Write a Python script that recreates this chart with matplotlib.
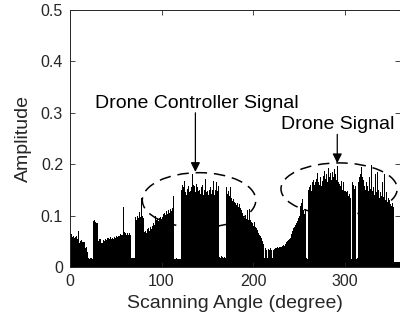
import numpy as np
import matplotlib
matplotlib.use("Agg")
import matplotlib.pyplot as plt
from matplotlib.patches import Ellipse

plt.rcParams['font.family'] = ['Liberation Sans', 'DejaVu Sans']

# amplitude per 1-degree scanning step (0..359)
amp_000 = [0.066,0.064,0.058,0.060,0.056,0.062,0.058,0.060,0.055,0.070,
           0.047,0.050,0.052,0.048,0.049,0.048,0.037,0.036,0.038,0.030,
           0.017,0.016,0.018,0.017,0.016,0.090,0.092,0.087,0.086,0.088,
           0.085,0.050,0.055,0.054,0.047,0.046,0.053,0.050,0.055,0.052,
           0.056,0.053,0.057,0.054,0.058,0.055,0.057,0.054,0.059,0.056,
           0.060,0.058,0.061,0.063,0.060,0.064,0.062,0.063,0.117,0.068]
amp_060 = [0.067,0.062,0.066,0.063,0.060,0.066,0.062,0.018,0.017,0.018,
           0.017,0.097,0.092,0.100,0.095,0.107,0.102,0.098,0.134,0.100,
           0.096,0.068,0.070,0.067,0.073,0.075,0.071,0.077,0.076,0.074,
           0.080,0.085,0.082,0.100,0.092,0.095,0.090,0.096,0.098,0.094,
           0.102,0.098,0.104,0.106,0.101,0.108,0.104,0.110,0.106,0.112,
           0.108,0.115,0.111,0.138,0.016,0.015,0.017,0.016,0.015,0.016]
amp_120 = [0.016,0.150,0.160,0.165,0.155,0.168,0.145,0.140,0.152,0.158,
           0.145,0.148,0.155,0.180,0.160,0.150,0.158,0.145,0.162,0.155,
           0.148,0.150,0.142,0.155,0.160,0.140,0.150,0.145,0.172,0.146,
           0.148,0.140,0.150,0.155,0.142,0.150,0.168,0.140,0.150,0.145,
           0.165,0.148,0.158,0.020,0.018,0.022,0.020,0.017,0.020,0.018,
           0.155,0.150,0.142,0.148,0.138,0.156,0.135,0.128,0.132,0.126]
amp_180 = [0.125,0.120,0.122,0.125,0.117,0.123,0.115,0.110,0.105,0.100,
           0.096,0.102,0.093,0.110,0.100,0.092,0.112,0.092,0.088,0.085,
           0.080,0.088,0.078,0.075,0.072,0.066,0.062,0.063,0.060,0.057,
           0.050,0.045,0.018,0.036,0.034,0.018,0.035,0.033,0.034,0.036,
           0.033,0.018,0.034,0.035,0.036,0.037,0.038,0.036,0.039,0.038,
           0.040,0.038,0.041,0.042,0.040,0.045,0.048,0.050,0.052,0.055]
amp_240 = [0.057,0.060,0.065,0.070,0.075,0.078,0.082,0.085,0.090,0.095,
           0.100,0.118,0.125,0.115,0.132,0.110,0.104,0.112,0.017,0.016,
           0.150,0.155,0.160,0.148,0.165,0.152,0.170,0.160,0.165,0.172,
           0.183,0.165,0.160,0.175,0.158,0.168,0.178,0.165,0.187,0.172,
           0.180,0.165,0.193,0.175,0.182,0.170,0.185,0.175,0.190,0.200,
           0.180,0.170,0.196,0.165,0.162,0.158,0.168,0.150,0.165,0.148]
amp_300 = [0.158,0.148,0.145,0.148,0.138,0.142,0.135,0.016,0.165,0.160,
           0.152,0.158,0.150,0.016,0.017,0.165,0.175,0.180,0.195,0.175,
           0.170,0.158,0.150,0.165,0.143,0.158,0.148,0.175,0.152,0.198,
           0.148,0.155,0.140,0.180,0.145,0.185,0.140,0.150,0.135,0.145,
           0.138,0.165,0.136,0.180,0.130,0.145,0.126,0.135,0.124,0.130,
           0.122,0.118,0.125,0.116,0.010,0.010,0.010,0.010,0.010,0.010]
amplitude = amp_000 + amp_060 + amp_120 + amp_180 + amp_240 + amp_300
angles = np.arange(len(amplitude))

x_ticks = [0, 100, 200, 300]
y_ticks = [0, 0.1, 0.2, 0.3, 0.4, 0.5]
y_ticklabels = ['0', '0.1', '0.2', '0.3', '0.4', '0.5']

controller_label = 'Drone Controller Signal'
drone_label = 'Drone Signal'
# ellipse (center angle, center amp, width deg, height amp)
controller_ellipse = (141, 0.130, 124, 0.107)
drone_ellipse = (294, 0.152, 127, 0.101)
controller_arrow = (137, 0.300, 0.185)   # x, text-bottom, tip
drone_arrow = (292, 0.258, 0.202)
controller_text = (139, 0.319)
drone_text = (293, 0.277)

fig = plt.figure(figsize=(4.0, 3.35), dpi=100)
ax = fig.add_axes([70/400, 68/335, 329.5/400, (257)/335])

ax.bar(angles, amplitude, width=1.0, align='edge', color='black', linewidth=0)

ax.set_xlim(0, 360)
ax.set_ylim(0, 0.5)
ax.set_xticks(x_ticks)
ax.set_yticks(y_ticks)
ax.set_yticklabels(y_ticklabels)
ax.tick_params(direction='in', length=3.5, width=0.6, top=True, right=True,
               labelsize=11.5, colors='#262626', pad=5)
for s in ax.spines.values():
    s.set_linewidth(0.7)
    s.set_color('#262626')

ax.set_xlabel('Scanning Angle (degree)', fontsize=14, color='#262626', labelpad=4)
ax.set_ylabel('Amplitude', fontsize=14, color='#262626', labelpad=6)

for (cx, cy, w, h) in [controller_ellipse, drone_ellipse]:
    e = Ellipse((cx, cy), w, h, fill=False, edgecolor='black', linewidth=1.1,
                linestyle=(0, (7.5, 4.5)), clip_on=False)
    ax.add_patch(e)

for (x, y0, y1) in [controller_arrow, drone_arrow]:
    ax.annotate('', xy=(x, y1), xytext=(x, y0),
                arrowprops=dict(arrowstyle='-|>', color='black', lw=0.9,
                                mutation_scale=14, shrinkA=0, shrinkB=0))

ax.text(controller_text[0], controller_text[1], controller_label, ha='center', va='center',
        fontsize=14, color='black')
ax.text(drone_text[0], drone_text[1], drone_label, ha='center', va='center',
        fontsize=14, color='black')

fig.savefig('out.png', dpi=100)
